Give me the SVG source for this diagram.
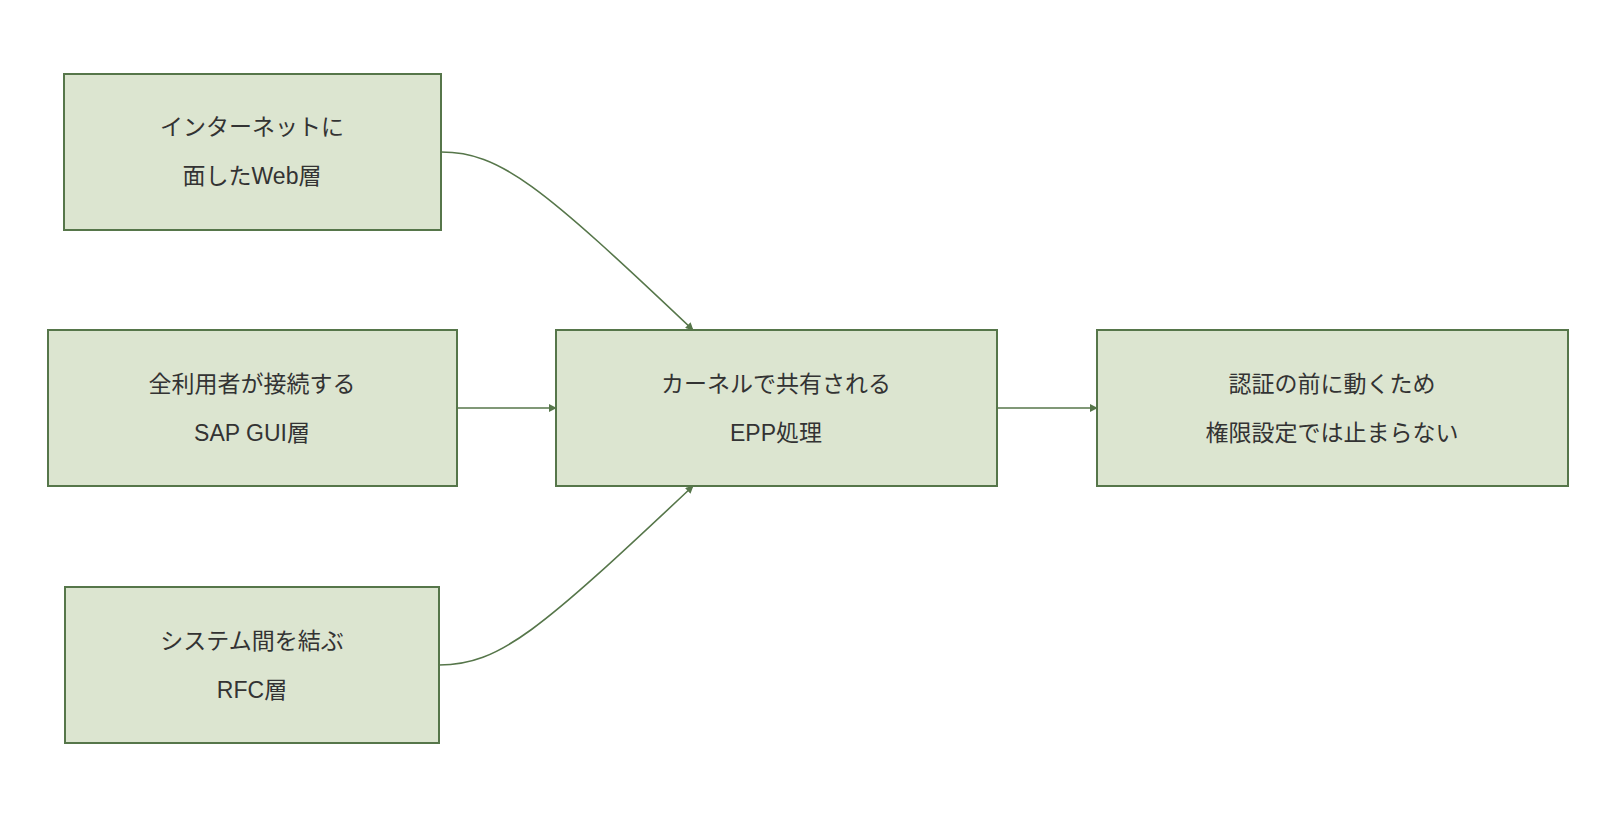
<svg xmlns="http://www.w3.org/2000/svg" width="1616" height="820" viewBox="0 0 1616 820">
<style>
.n rect{fill:#dce5d0;stroke:#56764a;stroke-width:2}
.n text{font-family:"Liberation Sans","Noto Sans CJK JP",sans-serif;font-size:23px;fill:#333;text-anchor:middle}
.e path{fill:none;stroke:#56764a;stroke-width:1.6}
</style>
<defs><marker id="a" viewBox="0 0 10 10" refX="9" refY="5" markerWidth="8" markerHeight="8" orient="auto" markerUnits="userSpaceOnUse"><path d="M0,0L10,5L0,10z" fill="#56764a"/></marker></defs>
<rect width="1616" height="820" fill="#fff"/>
<g class="e">
<path d="M441,152 C500,152 540,185 693,330" marker-end="url(#a)"/>
<path d="M439,665 C500,665 540,630 693,486" marker-end="url(#a)"/>
<path d="M457,408 L556,408" marker-end="url(#a)"/>
<path d="M997,408 L1097,408" marker-end="url(#a)"/>
</g>
<g id="n1" class="n"><rect x="64" y="74" width="377" height="156"/><text x="252" y="135">インターネットに</text><text x="252" y="184">面したWeb層</text></g>
<g id="n2" class="n"><rect x="48" y="330" width="409" height="156"/><text x="252" y="392">全利用者が接続する</text><text x="252" y="441">SAP GUI層</text></g>
<g id="n3" class="n"><rect x="65" y="587" width="374" height="156"/><text x="252" y="649">システム間を結ぶ</text><text x="252" y="698">RFC層</text></g>
<g id="n4" class="n"><rect x="556" y="330" width="441" height="156"/><text x="776" y="392">カーネルで共有される</text><text x="776" y="441">EPP処理</text></g>
<g id="n5" class="n"><rect x="1097" y="330" width="471" height="156"/><text x="1332" y="392">認証の前に動くため</text><text x="1332" y="441">権限設定では止まらない</text></g>
</svg>
